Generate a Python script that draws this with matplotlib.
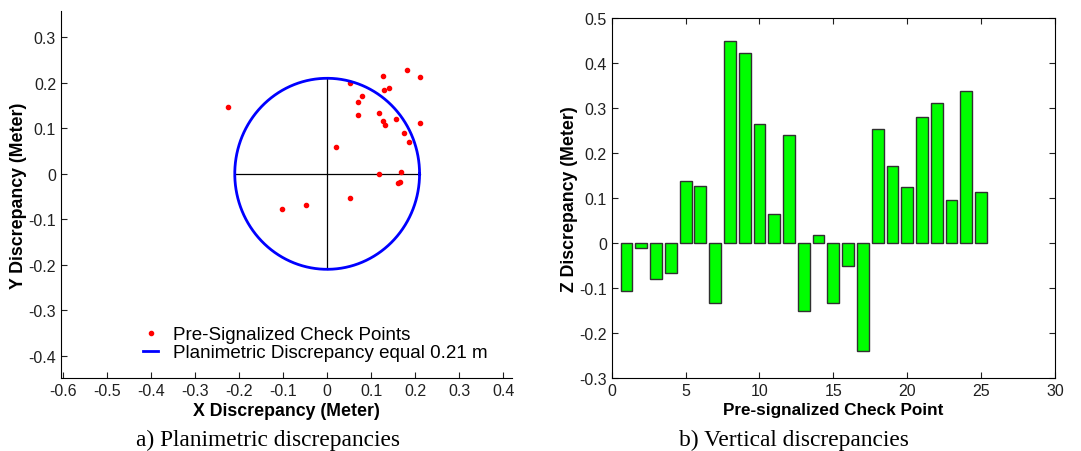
import numpy as np
import matplotlib
matplotlib.use("Agg")
import matplotlib.pyplot as plt

plt.rcParams['font.family'] = ['Liberation Sans', 'DejaVu Sans']

# planimetric discrepancies of the pre-signalized check points (m)
dx = [-0.225, 0.053, 0.127, 0.181, 0.210, 0.129, 0.141, 0.079, 0.069, 0.071,
      0.117, 0.127, 0.131, 0.157, 0.212, 0.174, 0.186, 0.020, 0.117, 0.167,
      0.160, 0.165, 0.053, -0.049, -0.103]
dy = [0.147, 0.199, 0.215, 0.228, 0.213, 0.185, 0.188, 0.171, 0.157, 0.130,
      0.133, 0.116, 0.107, 0.121, 0.111, 0.090, 0.069, 0.059, 0.000, 0.003,
      -0.021, -0.018, -0.054, -0.069, -0.078]
raio = 0.21

# vertical discrepancies (m)
pontos = np.arange(1, 26)
dz = [-0.106, -0.012, -0.080, -0.067, 0.138, 0.126, -0.133, 0.448, 0.423, 0.265,
      0.065, 0.241, -0.151, 0.018, -0.133, -0.052, -0.239, 0.253, 0.172, 0.124,
      0.280, 0.312, 0.096, 0.338, 0.113]

fig = plt.figure(figsize=(10.81, 4.52), dpi=100)

# a) planimetric
ax1 = fig.add_axes([0.0564, 0.1615, 0.4172, 0.812])
t = np.linspace(0, 2 * np.pi, 400)
ax1.plot([-raio, raio], [0, 0], color='black', lw=0.9)
ax1.plot([0, 0], [-raio, raio], color='black', lw=0.9)
ax1.plot(dx, dy, '.', color='red', ms=6, label='Pre-Signalized Check Points')
ax1.plot(raio * np.cos(t), raio * np.sin(t), color='blue', lw=2,
         label='Planimetric Discrepancy equal 0.21 m')
ax1.set_xlim(-0.605, 0.42)
ax1.set_ylim(-0.449, 0.358)
ax1.set_xticks(np.arange(-0.6, 0.41, 0.1))
ax1.set_xticklabels(['-0.6', '-0.5', '-0.4', '-0.3', '-0.2', '-0.1', '0', '0.1', '0.2', '0.3', '0.4'])
ax1.set_yticks(np.arange(-0.4, 0.31, 0.1))
ax1.set_yticklabels(['-0.4', '-0.3', '-0.2', '-0.1', '0', '0.1', '0.2', '0.3'])
ax1.spines['top'].set_visible(False)
ax1.spines['right'].set_visible(False)
ax1.tick_params(direction='in', length=4, labelsize=11.5, colors='#202020')
ax1.set_xlabel('X Discrepancy (Meter)', fontsize=12.8, fontweight='bold', labelpad=3)
ax1.set_ylabel('Y Discrepancy (Meter)', fontsize=12.8, fontweight='bold', labelpad=1)
ax1.legend(loc='lower center', bbox_to_anchor=(0.565, 0.0), frameon=False,
           fontsize=13.5, handlelength=0.8, handletextpad=0.8, labelspacing=0.05)

# b) vertical
ax2 = fig.add_axes([0.5659, 0.1615, 0.4100, 0.7965])
ax2.bar(pontos, dz, width=0.8, color='#00ff00', edgecolor='#303030', lw=1.0)
ax2.set_xlim(0, 30)
ax2.set_ylim(-0.3, 0.5)
ax2.set_xticks(np.arange(0, 31, 5))
ax2.set_yticks(np.arange(-0.3, 0.51, 0.1))
ax2.set_yticklabels(['-0.3', '-0.2', '-0.1', '0', '0.1', '0.2', '0.3', '0.4', '0.5'])
ax2.tick_params(direction='in', length=4, labelsize=11.5, top=True, right=True, colors='#202020')
ax2.set_xlabel('Pre-signalized Check Point', fontsize=12.3, fontweight='bold', labelpad=3)
ax2.set_ylabel('Z Discrepancy (Meter)', fontsize=12.8, fontweight='bold', labelpad=1)

fig.text(0.248, 0.013, 'a) Planimetric discrepancies', family='Liberation Serif',
         fontsize=16.8, ha='center')
fig.text(0.734, 0.013, 'b) Vertical discrepancies', family='Liberation Serif',
         fontsize=16.8, ha='center')

fig.savefig('out.png', dpi=100)
